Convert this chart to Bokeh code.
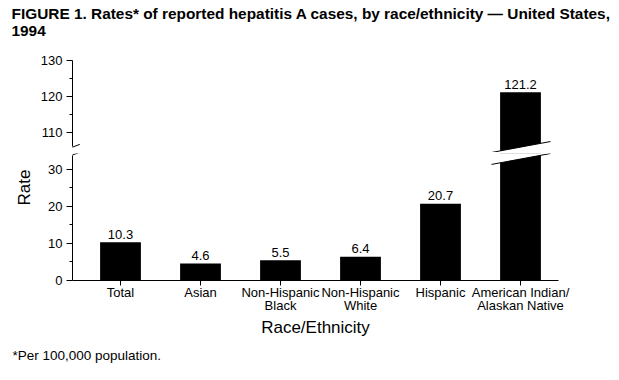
from bokeh.plotting import figure
from bokeh.layouts import column
from bokeh.models import Range1d, FixedTicker, Arrow, ColumnDataSource, Title
from bokeh.core.properties import value
from bokeh.embed import file_html
from bokeh.resources import INLINE

# ---------------- data ----------------
categories = ["Total", "Asian", "Non-Hispanic\nBlack", "Non-Hispanic\nWhite",
              "Hispanic", "American Indian/\nAlaskan Native"]
rates = [10.3, 4.6, 5.5, 6.4, 20.7, 121.2]
rate_labels = ["10.3", "4.6", "5.5", "6.4", "20.7", "121.2"]
lower_ticks = [0, 10, 20, 30]
lower_minor = [5, 15, 25]
upper_ticks = [110, 120, 130]
upper_minor = [115, 125]

title_text = "FIGURE 1. Rates* of reported hepatitis A cases, by race/ethnicity \u2014 United States,\n1994"
footnote = "*Per 100,000 population."
x_label = "Race/Ethnicity"
y_label = "Rate"

# ---------------- layout constants ----------------
FONT = "Liberation Sans"
W = 611
HEAD_H = 40
LEFT, RIGHT = 72, 53
X_START, X_END = -0.6, 5.475
BAR_W = 0.51
LOW_TOP = 34.3
UP_BOTTOM, UP_TOP = 104.45, 130
LOW_AXIS_END = 33.8
UP_AXIS_START = 106.1

xs = list(range(len(categories)))
src = ColumnDataSource(dict(x=xs, rate=rates, label=rate_labels))

low_idx = [i for i, r in enumerate(rates) if r < LOW_TOP]
up_idx = [i for i, r in enumerate(rates) if r > UP_BOTTOM]
src_low_lab = ColumnDataSource(dict(x=[xs[i] for i in low_idx], y=[rates[i] for i in low_idx],
                                    t=[rate_labels[i] for i in low_idx]))
src_up_lab = ColumnDataSource(dict(x=[xs[i] for i in up_idx], y=[rates[i] for i in up_idx],
                                   t=[rate_labels[i] for i in up_idx]))


def style_yaxis(p, ticks, minor, bounds):
    ax = p.yaxis[0]
    ax.ticker = FixedTicker(ticks=ticks, minor_ticks=minor)
    ax.bounds = bounds
    ax.major_tick_out = 6
    ax.major_tick_in = 0
    ax.minor_tick_out = 3
    ax.minor_tick_in = 0
    ax.major_label_standoff = 4
    ax.major_label_text_font = FONT
    ax.major_label_text_font_size = "13px"
    ax.major_label_text_color = "black"
    ax.axis_line_color = "black"
    ax.major_tick_line_color = "black"
    ax.minor_tick_line_color = "black"


# ---------------- header (title only) ----------------
head = figure(width=W, height=HEAD_H, x_range=Range1d(X_START, X_END), y_range=Range1d(0, 1),
              output_backend="svg", toolbar_location=None,
              x_axis_location=None, y_axis_location=None,
              min_border_left=LEFT, min_border_right=RIGHT,
              min_border_top=HEAD_H - 1, min_border_bottom=0)
head.grid.visible = False
head.outline_line_color = None
head.add_layout(Title(text=title_text, align="left", vertical_align="middle", offset=-61,
                      standoff=0, text_font=FONT, text_font_style="bold",
                      text_font_size="15.4px", text_line_height=1.0,
                      text_color="black"), "above")

# ---------------- upper panel ----------------
up = figure(width=W, height=152 - HEAD_H, x_range=head.x_range,
            y_range=Range1d(UP_BOTTOM, UP_TOP), output_backend="svg",
            toolbar_location=None, x_axis_location=None,
            min_border_left=LEFT, min_border_right=RIGHT,
            min_border_top=60 - HEAD_H, min_border_bottom=0)
up.grid.visible = False
up.outline_line_color = None
style_yaxis(up, upper_ticks, upper_minor, (UP_AXIS_START, UP_TOP))
up.vbar(x="x", top="rate", bottom=0, width=BAR_W, source=src,
        fill_color="black", line_color=None)
up.text(x="x", y="y", text="t", source=src_up_lab, text_font=value(FONT),
        text_font_size="13px", text_align="center", text_baseline="alphabetic",
        y_offset=-8, text_color="black")

# break on the tall bar (upper side)
bi = up_idx[0]
bxl, bxr = xs[bi] - 0.3625, xs[bi] + 0.375
up.patch(x=[bxl, bxr, bxr, bxl], y=[UP_BOTTOM, 107.5, UP_BOTTOM - 2, UP_BOTTOM - 2],
         fill_color="white", line_color=None)
up.segment(x0=[bxl], y0=[UP_BOTTOM], x1=[bxr], y1=[107.5], line_color="black", line_width=1)

# axis break slash (upper)
up.add_layout(Arrow(end=None, x_start=-0.6875, y_start=105.2, x_end=-0.509, y_end=106.7,
                    line_color="black", line_width=1))

# ---------------- lower panel ----------------
lo = figure(width=W, height=220, x_range=head.x_range,
            y_range=Range1d(0, LOW_TOP), output_backend="svg",
            toolbar_location=None,
            min_border_left=LEFT, min_border_right=RIGHT,
            min_border_top=1, min_border_bottom=92)
lo.grid.visible = False
lo.outline_line_color = None
style_yaxis(lo, lower_ticks, lower_minor, (0, LOW_AXIS_END))

xa = lo.xaxis[0]
xa.ticker = FixedTicker(ticks=xs, minor_ticks=[])
xa.major_label_overrides = {i: c for i, c in enumerate(categories)}
xa.major_tick_out = 5
xa.major_tick_in = 0
xa.major_label_standoff = -1
xa.major_label_text_font = FONT
xa.major_label_text_font_size = "13px"
xa.major_label_text_color = "black"
xa.major_label_text_line_height = 0.9
xa.axis_line_color = "black"
xa.axis_label = x_label
xa.axis_label_text_font = FONT
xa.axis_label_text_font_size = "17px"
xa.axis_label_text_font_style = "normal"
xa.axis_label_text_color = "black"
xa.axis_label_standoff = 2

lo.vbar(x="x", top="rate", bottom=0, width=BAR_W, source=src,
        fill_color="black", line_color=None)
lo.text(x="x", y="y", text="t", source=src_low_lab, text_font=value(FONT),
        text_font_size="13px", text_align="center", text_baseline="alphabetic",
        y_offset=-8, text_color="black")

# break on the tall bar (lower side)
lo.patch(x=[bxl, bxr, bxr, bxl], y=[31.35, LOW_TOP, LOW_TOP + 2, LOW_TOP + 2],
         fill_color="white", line_color=None)
lo.segment(x0=[bxl], y0=[31.35], x1=[bxr], y1=[LOW_TOP], line_color="black", line_width=1)

# axis break slash (lower)
lo.add_layout(Arrow(end=None, x_start=-0.6875, y_start=33.24, x_end=-0.509, y_end=34.6,
                    line_color="black", line_width=1))

lo.add_layout(Title(text=y_label, align="left", offset=75, standoff=23,
                    text_font=FONT, text_font_size="17px", text_font_style="normal",
                    text_color="black"), "left")
lo.add_layout(Title(text=footnote, align="left", offset=-60, standoff=10,
                    text_font=FONT, text_font_size="13.5px", text_font_style="normal",
                    text_color="black"), "below")

layout = column(head, up, lo)
open("out.html", "w").write(file_html(layout, INLINE))
